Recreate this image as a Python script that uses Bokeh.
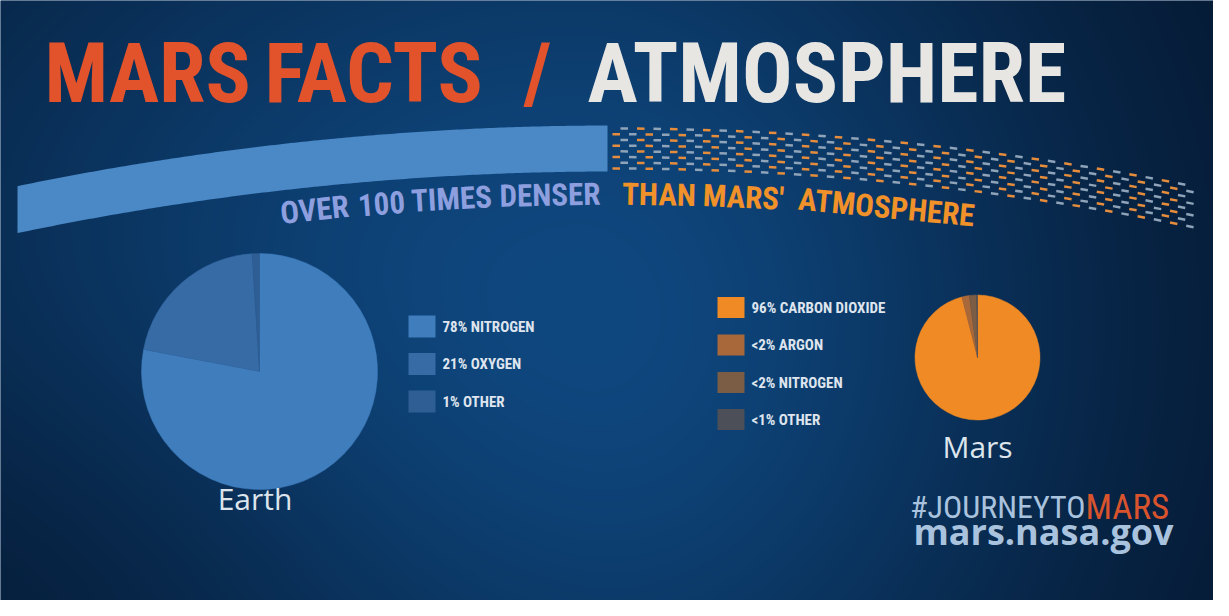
import numpy as np
from bokeh.plotting import figure
from bokeh.models import Range1d
from bokeh.core.properties import value
from bokeh.embed import file_html
from bokeh.resources import INLINE

# ---------------- data ----------------
title_words = ["MARS", "FACTS", "/", "ATMOSPHERE"]
arc_words_left = ["OVER", "100", "TIMES", "DENSER"]
arc_words_right = ["THAN", "MARS'", "ATMOSPHERE"]
planet_names = ["Earth", "Mars"]

earth_gases = ["NITROGEN", "OXYGEN", "OTHER"]
earth_pct = [78, 21, 1]
earth_pct_labels = ["78%", "21%", "1%"]

mars_gases = ["CARBON DIOXIDE", "ARGON", "NITROGEN", "OTHER"]
mars_pct = [95.97, 1.93, 1.89, 0.21]
mars_pct_labels = ["96%", "<2%", "<2%", "<1%"]

hashtag_parts = ["#JOURNEYTO", "MARS"]
site = "mars.nasa.gov"

# ---------------- style / layout ----------------
earth_colors = ["#3f7dbd", "#376ba5", "#2f5e95"]
mars_colors = ["#f08a24", "#a8683a", "#7b5c44", "#4c4e58"]
COND = value("Roboto Condensed, DejaVu Sans Condensed, Liberation Sans")
SANS = value("Open Sans")

W, H = 1213, 600
OX, OY = 8, 8


def Y(yref):
    return 616 - yref


p = figure(width=W, height=H, x_range=Range1d(OX, OX + W), y_range=Range1d(Y(OY + H), Y(OY)),
           output_backend="svg", toolbar_location=None, min_border=0,
           x_axis_type=None, y_axis_type=None)
p.grid.visible = False
p.outline_line_color = None
p.background_fill_color = "#0b3260"
p.border_fill_color = "#0b3260"

# ---------------- background gradient ----------------
nx, ny = 607, 300
xs = np.linspace(OX, OX + W, nx)
yd = Y(OY + H) + (np.arange(ny) + 0.5) * H / ny
yr = 616 - yd
XX, YR = np.meshgrid(xs, yr)
dx = XX - 580
sx = np.where(dx < 0, 760, 520)
f = np.exp(-((dx / sx) ** 2 + ((YR - 330) / 560) ** 2))
g = np.exp(-((XX / 380) ** 2 + ((YR - 616) / 260) ** 2))
f = f * (1 - 0.45 * g)
dark = np.array([4, 20, 42])
light = np.array([15, 72, 128])
img = np.zeros((ny, nx), dtype=np.uint32)
view = img.view(dtype=np.uint8).reshape((ny, nx, 4))
for c in range(3):
    view[:, :, c] = (dark[c] + (light[c] - dark[c]) * f).astype(np.uint8)
view[:, :, 3] = 255
p.image_rgba(image=[img], x=OX, y=Y(OY + H), dw=W, dh=H)

# ---------------- title ----------------
title_x = [52, 272, 545, 595]
title_align = ["left", "left", "center", "left"]
title_col = ["#e2522b", "#e2522b", "#e2522b", "#e8e6e3"]
p.text(x=title_x, y=[Y(81)] * 4, text=title_words, text_font=COND, text_font_style="bold",
       text_font_size="84px", text_color=title_col, text_baseline="middle", text_align=title_align)

# ---------------- atmosphere arc ----------------
CX, CY = 620, Y(3083)
R_top, R_bot = 2950, 2904
bx = np.linspace(25, 615, 150)
p.patch(np.r_[bx, bx[::-1]],
        np.r_[CY + np.sqrt(R_top ** 2 - (bx - CX) ** 2), (CY + np.sqrt(R_bot ** 2 - (bx - CX) ** 2))[::-1]],
        fill_color="#4a88c6", line_color=None)

x0s, y0s, x1s, y1s, cols = [], [], [], [], []
n_rows = 8
for k in range(n_rows):
    r = R_bot + 3 + k * (R_top - R_bot - 6) / (n_rows - 1)
    ph0 = np.arcsin((620 - CX) / r)
    ph1 = np.arcsin((1205 - CX) / r)
    step = 16.5 / r
    dl = 7.5 / r
    off = (k % 2) * 8.0 / r
    phis = np.arange(ph0 + off, ph1 - dl, step)
    for i, ph in enumerate(phis):
        x0s.append(CX + r * np.sin(ph)); y0s.append(CY + r * np.cos(ph))
        x1s.append(CX + r * np.sin(ph + dl)); y1s.append(CY + r * np.cos(ph + dl))
        cols.append("#e58d3c" if (k + i) % 2 == 0 else "#8fa3b9")
p.segment(x0=x0s, y0=y0s, x1=x1s, y1=y1s, line_color=cols, line_width=2.5, line_cap="butt")

# arc text (word centres on an arc concentric with the band)
R_txt = 2881
word_cx = [322, 389, 459, 557.5, 666.5, 751, 894]
words = arc_words_left + arc_words_right
wcol = ["#8d9fdf"] * len(arc_words_left) + ["#f0912a"] * len(arc_words_right)
phs = np.arcsin((np.array(word_cx) - CX) / R_txt)
p.text(x=CX + R_txt * np.sin(phs), y=CY + R_txt * np.cos(phs), text=words, angle=-phs,
       text_font=COND, text_font_style="bold", text_font_size="31px", text_color=wcol,
       text_align="center", text_baseline="middle")


# ---------------- pies ----------------
def pie(pcts, cx, cy, r, colors):
    fr = np.cumsum([0] + list(pcts)) / sum(pcts)
    start = np.pi / 2 - fr[1:] * 2 * np.pi
    end = np.pi / 2 - fr[:-1] * 2 * np.pi
    p.wedge(x=cx, y=cy, radius=r, start_angle=start, end_angle=end, direction="anticlock",
            fill_color=colors, line_color=colors, line_width=0.5)


pie(earth_pct, 267, Y(379), 118, earth_colors)
pie(mars_pct, 985, Y(365), 62.5, mars_colors)


# ---------------- legends ----------------
def legend(x_sw, y_centers, pct_labels, names, colors, sw_h):
    yc = np.array([Y(v) for v in y_centers])
    p.rect(x=x_sw + 13.5, y=yc, width=27, height=sw_h, fill_color=colors, line_color=None)
    p.text(x=x_sw + 34, y=yc, text=[a + "  " + b for a, b in zip(pct_labels, names)],
           text_font=COND, text_font_style="bold", text_font_size="15px", text_color="#dfe5ee",
           text_baseline="middle", text_align="left")


legend(416, [334, 371.5, 409], earth_pct_labels, earth_gases, earth_colors, 22)
legend(725, [315, 352.5, 390, 427], mars_pct_labels, mars_gases, mars_colors, 21)

# planet names
p.text(x=[262.5, 985], y=[Y(506), Y(454)], text=planet_names, text_font=SANS,
       text_font_size="30px", text_color="#dce4ec", text_align="center", text_baseline="middle")

# ---------------- footer ----------------
p.text(x=[1093], y=[Y(514.5)], text=[hashtag_parts[0]], text_font=COND, text_font_size="32px",
       text_color="#a9c3de", text_align="right", text_baseline="middle")
p.text(x=[1093], y=[Y(514.5)], text=[hashtag_parts[1]], text_font=COND, text_font_size="35px",
       text_color="#d9542d", text_align="left", text_baseline="middle")
p.text(x=[921], y=[Y(539)], text=[site], text_font=SANS, text_font_style="bold",
       text_font_size="36px", text_color="#a9c3de", text_align="left", text_baseline="middle")

open("out.html", "w").write(file_html(p, INLINE))
